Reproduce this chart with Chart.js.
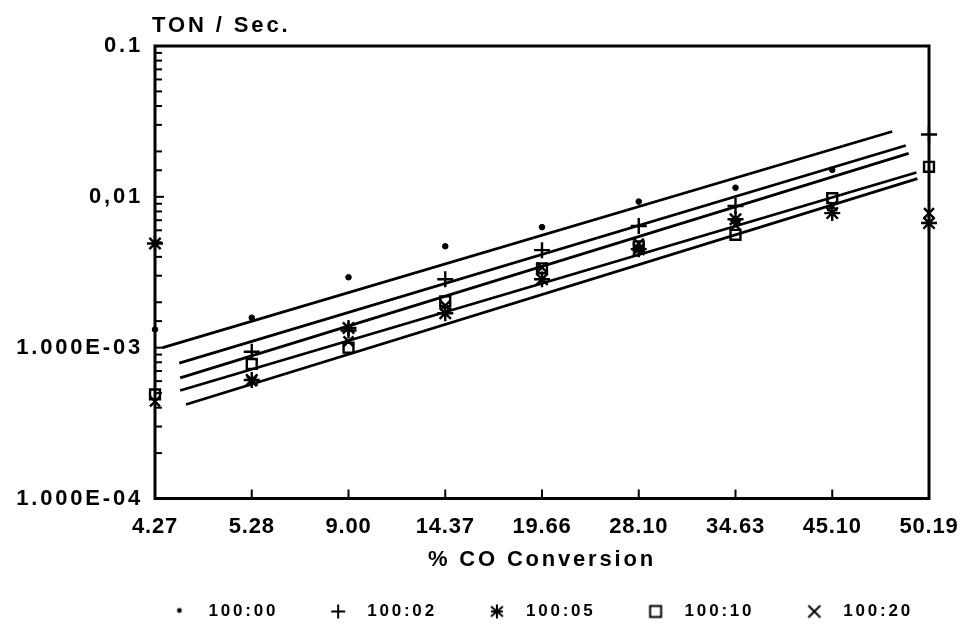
<!DOCTYPE html>
<html>
<head>
<meta charset="utf-8">
<script src="https://cdn.jsdelivr.net/npm/chart.js@4.4.1/dist/chart.umd.min.js"></script>
<style>
  html, body { margin: 0; padding: 0; background: #fff; }
  #wrap { width: 968px; height: 626px; }
</style>
</head>
<body>
<div id="wrap"><canvas id="chart"></canvas></div>
<script>
const xLabels = ['4.27', '5.28', '9.00', '14.37', '19.66', '28.10', '34.63', '45.10', '50.19'];
const yTickValues = [0.1, 0.01, 0.001, 0.0001];
const yTickLabels = ['0.1', '0,01', '1.000E-03', '1.000E-04'];

const seriesNames = ['100:00', '100:02', '100:05', '100:10', '100:20'];
const ton0000 = [0.00132, 0.00158, 0.00293, 0.0047, 0.0063, 0.0093, 0.0115, 0.0151, null];
const ton0002 = [null, 0.00094, 0.0013, 0.00284, 0.00443, 0.0064, 0.0087, null, 0.0259];
const ton0005 = [0.0049, 0.00061, 0.00135, 0.00169, 0.00284, 0.0045, 0.0071, 0.0078, 0.0067];
const ton0010 = [0.00049, 0.00078, 0.001, 0.00203, 0.00336, 0.0047, 0.0056, 0.0098, 0.0158];
const ton0020 = [0.00044, 0.0006, 0.0011, 0.0019, 0.0034, 0.0049, 0.0065, 0.0087, 0.0078];

// fitted lines: start / end position (category index) and value
const fitStartX = [0.08, 0.25, 0.26, 0.26, 0.32];
const fitEndX = [7.62, 7.76, 7.79, 7.87, 7.88];
const fitStartY = [0.00100, 0.00079, 0.00063, 0.00052, 0.00042];
const fitEndY = [0.0271, 0.0219, 0.0194, 0.0145, 0.0132];

const pointStyles = ['circle', 'cross', 'star', 'rect', 'crossRot'];
const pointSizes = [2.8, 8, 8, 7, 7];
const allSeries = [ton0000, ton0002, ton0005, ton0010, ton0020];

function toPoints(arr) {
  return arr.map((v, i) => ({ x: i, y: v })).filter(p => p.y !== null);
}

// legend symbols
function legendMark(kind) {
  const c = document.createElement('canvas');
  c.width = 18; c.height = 18;
  const g = c.getContext('2d');
  g.strokeStyle = '#000'; g.fillStyle = '#000'; g.lineWidth = 2;
  const seg = (x1, y1, x2, y2) => { g.beginPath(); g.moveTo(x1, y1); g.lineTo(x2, y2); g.stroke(); };
  if (kind === 0) { g.beginPath(); g.arc(9, 8, 2.4, 0, Math.PI * 2); g.fill(); }
  if (kind === 1) { seg(9, 2, 9, 16); seg(2, 9, 16, 9); }
  if (kind === 2) { seg(9, 2, 9, 16); seg(3, 4, 15, 14); seg(15, 4, 3, 14); seg(3, 9, 15, 9); }
  if (kind === 3) { g.strokeRect(3.5, 3.5, 11, 11); }
  if (kind === 4) { seg(3, 3, 15, 15); seg(15, 3, 3, 15); }
  return c;
}
const legendMarks = seriesNames.map((n, i) => legendMark(i));

const datasets = [];
allSeries.forEach((arr, i) => {
  datasets.push({
    label: seriesNames[i],
    data: toPoints(arr),
    showLine: false,
    clip: false,
    pointStyle: pointStyles[i],
    pointRadius: pointSizes[i],
    borderColor: '#000',
    backgroundColor: i === 0 ? '#000' : 'rgba(0,0,0,0)',
    borderWidth: i === 0 ? 1 : 2.4
  });
});
fitStartX.forEach((sx, i) => {
  datasets.push({
    label: 'fit ' + seriesNames[i],
    data: [{ x: sx, y: fitStartY[i] }, { x: fitEndX[i], y: fitEndY[i] }],
    showLine: true,
    clip: false,
    pointRadius: 0,
    borderColor: '#000',
    borderWidth: 2.8
  });
});

// old plotter lettering is widely spaced
const spacing = {
  id: 'spacing',
  beforeUpdate(chart) { chart.ctx.letterSpacing = '2.8px'; },
  beforeLayout(chart) { chart.ctx.letterSpacing = '2.8px'; },
  afterLayout(chart) {
    // legend sits centred under the plot, a little to the left
    const l = chart.legend, a = chart.chartArea;
    const d = (a.left + a.right) / 2 - 6 - (l.left + l.right) / 2;
    l.left += d; l.right += d;
  },
  beforeDraw(chart) { chart.ctx.letterSpacing = '2.8px'; },
  afterDatasetsDraw(chart) { chart.ctx.letterSpacing = '0.8px'; }
};

const frame = {
  id: 'frame',
  afterDraw(chart) {
    const { ctx, chartArea: a, scales: { x, y } } = chart;
    ctx.save();
    ctx.strokeStyle = '#000';
    ctx.lineWidth = 3;
    ctx.strokeRect(a.left, a.top, a.right - a.left, a.bottom - a.top);
    ctx.lineWidth = 2;
    y.ticks.forEach(t => {
      const py = y.getPixelForValue(t.value);
      const lg = Math.log10(t.value);
      const len = Math.abs(lg - Math.round(lg)) < 1e-6 ? 9 : 7;
      ctx.beginPath(); ctx.moveTo(a.left, py); ctx.lineTo(a.left + len, py); ctx.stroke();
    });
    x.ticks.forEach(t => {
      const px = x.getPixelForValue(t.value);
      ctx.beginPath(); ctx.moveTo(px, a.bottom); ctx.lineTo(px, a.bottom - 9); ctx.stroke();
    });
    ctx.fillStyle = '#000';
    ctx.font = 'bold 22px "Liberation Sans"';
    ctx.letterSpacing = '2.9px';
    ctx.textAlign = 'left';
    ctx.textBaseline = 'alphabetic';
    ctx.fillText('TON / Sec.', a.left - 3, a.top - 14);
    ctx.restore();
  }
};

new Chart(document.getElementById('chart'), {
  type: 'scatter',
  data: { datasets },
  plugins: [spacing, frame],
  options: {
    responsive: true,
    maintainAspectRatio: false,
    animation: false,
    layout: { padding: { top: 46, right: 39, left: 0, bottom: -4 } },
    plugins: {
      tooltip: { enabled: false },
      legend: {
        position: 'bottom',
        labels: {
          usePointStyle: true,
          pointStyleWidth: 41,
          boxHeight: 17,
          padding: 39.5,
          color: '#000',
          font: { family: '"Liberation Sans"', size: 17, weight: 'bold' },
          generateLabels() {
            return seriesNames.map((name, i) => ({
              text: name,
              datasetIndex: i,
              pointStyle: legendMarks[i],
              strokeStyle: '#000',
              fillStyle: 'rgba(0,0,0,0)',
              fontColor: '#000',
              lineWidth: 1.5,
              hidden: false
            }));
          }
        }
      }
    },
    scales: {
      x: {
        type: 'linear',
        min: 0,
        max: 8,
        grid: { display: false, drawTicks: false },
        border: { display: false },
        afterFit: s => { s.paddingLeft = 0; s.paddingRight = 0; },
        ticks: {
          z: 1,
          stepSize: 1,
          padding: 17,
          color: '#000',
          font: { family: '"Liberation Sans"', size: 22, weight: 'bold', lineHeight: 1 },
          callback: v => xLabels[v] ?? ''
        },
        title: {
          display: true,
          text: '% CO Conversion',
          color: '#000',
          font: { family: '"Liberation Sans"', size: 22, weight: 'bold', lineHeight: 1 },
          padding: { top: -6, bottom: -7 }
        }
      },
      y: {
        type: 'logarithmic',
        min: 0.0001,
        max: 0.1,
        grid: { display: false, drawTicks: false },
        border: { display: false },
        afterFit: s => { s.width = 155; },
        ticks: {
          autoSkip: false,
          padding: 12,
          color: '#000',
          font: { family: '"Liberation Sans"', size: 22, weight: 'bold' },
          callback: v => {
            const k = yTickValues.findIndex(t => Math.abs(t - v) / t < 1e-6);
            return k >= 0 ? yTickLabels[k] : '';
          }
        }
      }
    }
  }
});
</script>
</body>
</html>
